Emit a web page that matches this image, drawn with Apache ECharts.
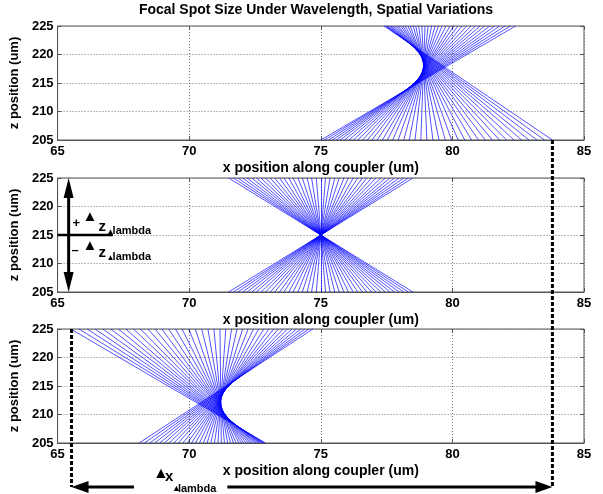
<!DOCTYPE html>
<html>
<head>
<meta charset="utf-8">
<script src="https://cdn.jsdelivr.net/npm/echarts@6/dist/echarts.min.js"></script>
<style>
html,body{margin:0;padding:0;background:#fff}
#chart{width:603px;height:494px}
</style>
</head>
<body>
<div id="chart"></div>
<script>
// axis ranges shared by the three panels
var xMin = 65, xMax = 85, xStep = 5
var zMin = 205, zMax = 225, zStep = 5

// x where each ray crosses z=205 (bottom) and z=225 (top)
var rayBottom1 = [75.00,75.14,75.29,75.44,75.59,75.74,75.90,76.07,76.24,76.41,76.59,76.77,76.95,77.14,77.34,77.53,77.73,77.94,78.15,78.36,78.58,
                  78.80,79.03,79.26,79.49,79.73,79.97,80.22,80.47,80.73,80.99,81.25,81.52,81.79,82.06,82.34,82.63,82.91,83.21,83.50,83.80]
var rayTop1    = [82.40,82.20,82.00,81.80,81.61,81.42,81.23,81.05,80.88,80.71,80.54,80.37,80.21,80.06,79.91,79.76,79.61,79.47,79.34,79.21,79.08,
                  78.96,78.84,78.72,78.61,78.51,78.40,78.31,78.21,78.12,78.04,77.95,77.88,77.80,77.73,77.67,77.61,77.55,77.50,77.45,77.40]

var rayBottom2 = [71.50,71.68,71.85,72.03,72.20,72.38,72.55,72.73,72.90,73.08,73.25,73.43,73.60,73.78,73.95,74.13,74.30,74.48,74.65,74.83,75.00,
                  75.18,75.35,75.53,75.70,75.88,76.05,76.23,76.40,76.58,76.75,76.93,77.10,77.28,77.45,77.63,77.80,77.98,78.15,78.33,78.50]
var rayTop2    = [78.50,78.33,78.15,77.98,77.80,77.63,77.45,77.28,77.10,76.93,76.75,76.58,76.40,76.23,76.05,75.88,75.70,75.53,75.35,75.18,75.00,
                  74.83,74.65,74.48,74.30,74.13,73.95,73.78,73.60,73.43,73.25,73.08,72.90,72.73,72.55,72.38,72.20,72.03,71.85,71.68,71.50]

var rayBottom3 = [72.90,72.86,72.82,72.77,72.72,72.67,72.61,72.54,72.48,72.40,72.33,72.25,72.16,72.07,71.98,71.89,71.78,71.68,71.57,71.46,71.34,
                  71.22,71.09,70.96,70.82,70.68,70.54,70.39,70.24,70.09,69.93,69.76,69.59,69.42,69.24,69.06,68.88,68.69,68.50,68.30,68.10]
var rayTop3    = [65.50,65.81,66.12,66.42,66.72,67.02,67.31,67.59,67.88,68.15,68.43,68.70,68.96,69.22,69.48,69.73,69.98,70.23,70.47,70.71,70.94,
                  71.17,71.39,71.61,71.82,72.03,72.24,72.44,72.64,72.84,73.03,73.21,73.39,73.57,73.74,73.91,74.08,74.24,74.40,74.55,74.70]

// annotation anchors, data x
var dashRightX = 83.8
var dashLeftX = 65.53
var zArrowX = 65.42
var zSplit = 215
var zSplitEndX = 67.1
var xLabelGap = [67.9, 71.45]

var gridTops = [26, 178, 329]
var font = '"Liberation Sans", Arial, sans-serif'

var chart = echarts.init(document.getElementById('chart'))

var grids = [], xAxes = [], yAxes = [], series = []
for (let g = 0; g < 3; g++) {
    grids.push({left: 57, right: 19, top: gridTops[g], height: 114, show: true,
        borderColor: '#555', borderWidth: 1, backgroundColor: '#fff'})
}
for (let g = 0; g < 3; g++) {
    xAxes.push({
        type: 'value', gridIndex: g, min: xMin, max: xMax, interval: xStep, position: 'bottom',
        axisLine: {show: true, lineStyle: {color: '#555'}},
        axisTick: {inside: true, length: 4, lineStyle: {color: '#555'}},
        axisLabel: {color: '#000', fontFamily: font, fontWeight: 'bold', fontSize: 13, margin: 5},
        splitLine: {show: true, lineStyle: {color: '#777', type: [1, 2], width: 1}},
        name: 'x position along coupler (um)', nameLocation: 'middle', nameGap: 21,
        nameTextStyle: {color: '#000', fontFamily: font, fontWeight: 'bold', fontSize: 14}
    })
    yAxes.push({
        type: 'value', gridIndex: g, min: zMin, max: zMax, interval: zStep, position: 'left',
        axisLine: {show: true, lineStyle: {color: '#555'}},
        axisTick: {inside: true, length: 4, lineStyle: {color: '#555'}},
        axisLabel: {color: '#000', fontFamily: font, fontWeight: 'bold', fontSize: 13, margin: 4},
        splitLine: {show: true, lineStyle: {color: '#777', type: [1, 2], width: 1}},
        name: 'z position (um)', nameLocation: 'middle', nameGap: 29,
        nameTextStyle: {color: '#000', fontFamily: font, fontWeight: 'bold', fontSize: 13}
    })
}
// tick marks on top and right edges, like the matlab box
for (let g = 0; g < 3; g++) {
    xAxes.push({type: 'value', gridIndex: g, min: xMin, max: xMax, interval: xStep, position: 'top',
        axisLine: {show: false}, axisLabel: {show: false}, splitLine: {show: false},
        axisTick: {inside: true, length: 4, lineStyle: {color: '#555'}}})
    yAxes.push({type: 'value', gridIndex: g, min: zMin, max: zMax, interval: zStep, position: 'right',
        axisLine: {show: false}, axisLabel: {show: false}, splitLine: {show: false},
        axisTick: {inside: true, length: 4, lineStyle: {color: '#555'}}})
}

function raySeries(g, bottoms, tops) {
    var d = []
    for (let i = 0; i < bottoms.length; i++) {
        d.push({coords: [[bottoms[i], zMin], [tops[i], zMax]]})
    }
    return {type: 'lines', coordinateSystem: 'cartesian2d', xAxisIndex: g, yAxisIndex: g,
        data: d, silent: true, z: 3,
        lineStyle: {color: '#0000ff', width: 0.8, opacity: 0.85}}
}
series.push(raySeries(0, rayBottom1, rayTop1))
series.push(raySeries(1, rayBottom2, rayTop2))
series.push(raySeries(2, rayBottom3, rayTop3))

chart.setOption({
    animation: false,
    grid: grids, xAxis: xAxes, yAxis: yAxes, series: series
})

// annotations placed from data positions
function px(g, x, z) { return chart.convertToPixel({gridIndex: g}, [x, z]) }

var bottomY = px(2, xMin, zMin)[1] + 44
var rTop = px(0, dashRightX, zMin)
var lTop = px(2, dashLeftX, zMax)
var gapL = px(2, xLabelGap[0], zMin)[0]
var gapR = px(2, xLabelGap[1], zMin)[0]
var aTop = px(1, zArrowX, zMax)
var aBot = px(1, zArrowX, zMin)
var sL = px(1, xMin, zSplit)
var sR = px(1, zSplitEndX, zSplit)

var ink = '#000'
function txt(x, y, s, size, align) {
    return {type: 'text', x: x, y: y, z: 20, style: {text: s, font: 'bold ' + size + 'px ' + font,
        fill: ink, textAlign: align || 'left', textVerticalAlign: 'middle'}}
}
function seg(x1, y1, x2, y2, w, dash) {
    return {type: 'line', z: 15, shape: {x1: x1, y1: y1, x2: x2, y2: y2},
        style: {stroke: ink, lineWidth: w, lineDash: dash || null}}
}
function tri(pts) {
    return {type: 'polygon', z: 16, shape: {points: pts}, style: {fill: ink}}
}

var graphic = [
    txt(316, 10, 'Focal Spot Size Under Wavelength, Spatial Variations', 14, 'center'),
    // dashed guides
    seg(rTop[0], rTop[1], rTop[0], bottomY, 3, [4, 2]),
    seg(lTop[0], lTop[1], lTop[0], bottomY, 3, [4, 2]),
    // bottom arrows
    seg(lTop[0] + 14, bottomY, gapL, bottomY, 3),
    tri([[lTop[0], bottomY], [lTop[0] + 17, bottomY - 6], [lTop[0] + 17, bottomY + 6]]),
    seg(gapR, bottomY, rTop[0] - 14, bottomY, 3),
    tri([[rTop[0], bottomY], [rTop[0] - 17, bottomY - 6], [rTop[0] - 17, bottomY + 6]]),
    txt(gapL + 19, bottomY - 13, '\u25B2', 16),
    txt(gapL + 31, bottomY - 10, 'x', 15),
    txt(gapL + 38, bottomY + 2, '\u25B2', 9),
    txt(gapL + 44, bottomY + 2, 'lambda', 11),
    // vertical z arrow in middle panel
    seg(aTop[0], aTop[1] + 16, aBot[0], aBot[1] - 16, 3),
    tri([[aTop[0], aTop[1]], [aTop[0] - 5, aTop[1] + 20], [aTop[0] + 5, aTop[1] + 20]]),
    tri([[aBot[0], aBot[1]], [aBot[0] - 5, aBot[1] - 20], [aBot[0] + 5, aBot[1] - 20]]),
    seg(sL[0], sL[1], sR[0], sR[1], 2.5),
    txt(sL[0] + 15, sL[1] - 12, '+', 13),
    txt(sL[0] + 25, sL[1] - 18, '\u25B2', 15),
    txt(sL[0] + 41, sL[1] - 8, 'z', 15),
    txt(sL[0] + 49, sL[1] - 3, '\u25B2', 8),
    txt(sL[0] + 55, sL[1] - 4, 'lambda', 11),
    txt(sL[0] + 14, sL[1] + 15, '\u2013', 13),
    txt(sL[0] + 25, sL[1] + 11, '\u25B2', 15),
    txt(sL[0] + 41, sL[1] + 18, 'z', 15),
    txt(sL[0] + 49, sL[1] + 23, '\u25B2', 8),
    txt(sL[0] + 55, sL[1] + 22, 'lambda', 11)
]
chart.setOption({graphic: graphic})
</script>
</body>
</html>
